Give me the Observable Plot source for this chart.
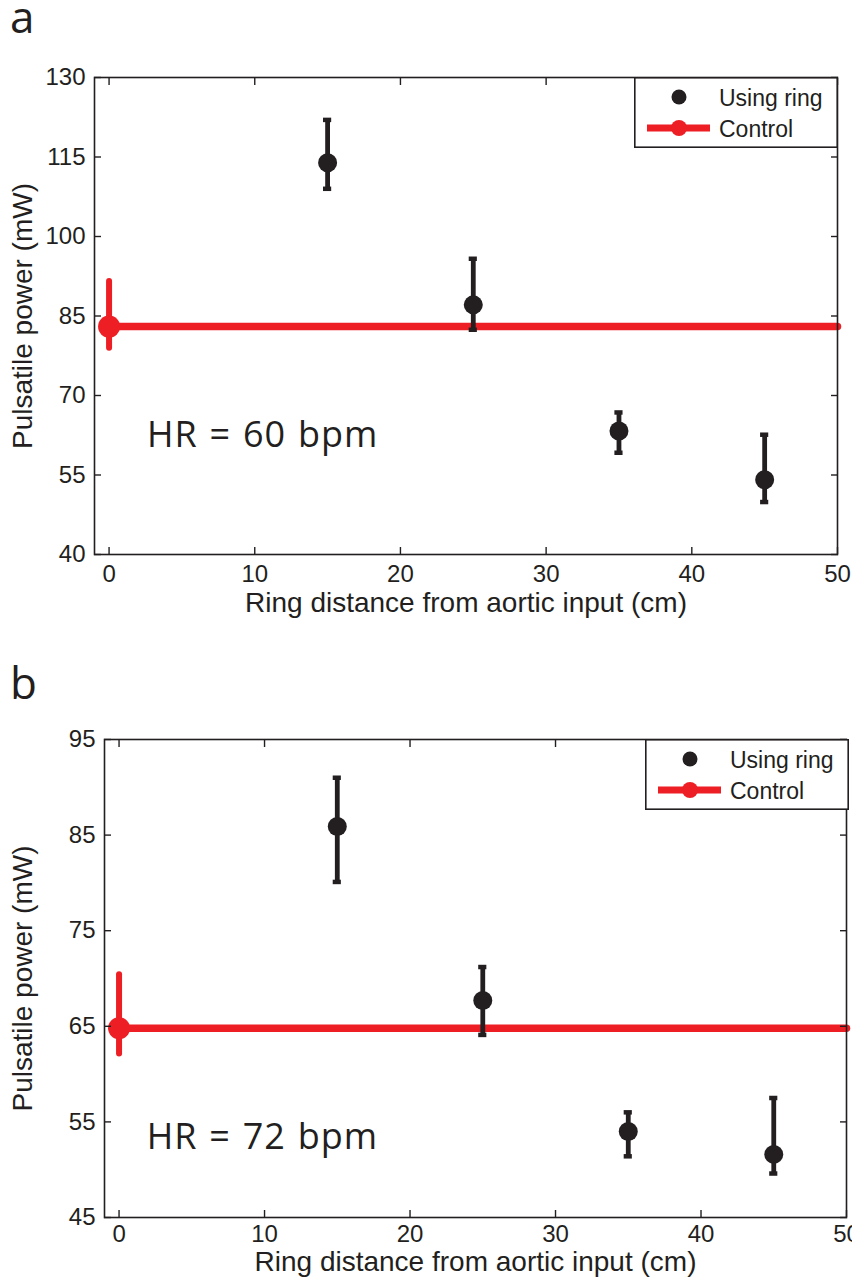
<!DOCTYPE html>
<html><head><meta charset="utf-8">
<script src="https://cdn.jsdelivr.net/npm/d3@7"></script>
<script src="https://cdn.jsdelivr.net/npm/@observablehq/plot@0.6"></script>
<style>
body{margin:0;background:#fff;}
#wrap{position:relative;width:852px;height:1284px;overflow:hidden;background:#fff;}
.panel{position:absolute;left:0;}
.legend,.plabel{position:absolute;overflow:visible;}
</style></head>
<body><div id="wrap"></div>
<script>
// ---- data ----
const distances = [15, 25, 35, 45];
const xTicks = [0, 10, 20, 30, 40, 50];
const xLabel = "Ring distance from aortic input (cm)";
const yLabel = "Pulsatile power (mW)";
const legendLabels = ["Using ring", "Control"];
const panelLetters = ["a", "b"];

// panel a (HR = 60 bpm)
const ringA   = [113.9, 87.1, 63.3, 54.1];
const ringALo = [109.0, 82.4, 59.2, 49.9];
const ringAHi = [122.0, 95.8, 66.8, 62.6];
const controlA = [83.0, 78.9, 91.5]; // mean, lower, upper at x = 0
const yTicksA = [40, 55, 70, 85, 100, 115, 130];
const hrA = "HR = 60 bpm";

// panel b (HR = 72 bpm)
const ringB   = [85.9, 67.7, 54.0, 51.6];
const ringBLo = [80.1, 64.1, 51.4, 49.6];
const ringBHi = [91.0, 71.2, 56.0, 57.5];
const controlB = [64.8, 62.1, 70.4];
const yTicksB = [45, 55, 65, 75, 85, 95];
const hrB = "HR = 72 bpm";

const controlX = [0, 50]; // control reference line extent

const BLACK = "#231f20", RED = "#ed1f24";

function panel(o) {
  const ring = distances.map((d, i) => ({x: d, y: o.ring[i], lo: o.lo[i], hi: o.hi[i]}));
  const ctrl = [{x: controlX[0], y: o.ctrl[0], lo: o.ctrl[1], hi: o.ctrl[2]}];
  const ctrlLine = controlX.map(x => ({x, y: o.ctrl[0]}));
  const svg = Plot.plot({
    width: 852, height: o.height,
    marginTop: o.mt, marginBottom: o.mb, marginLeft: o.ml, marginRight: o.mr,
    x: {domain: [-1, 50]},
    y: {domain: o.yDomain},
    style: {fontFamily: "'Liberation Sans', Arial, sans-serif", fontSize: "24px", color: BLACK, background: "transparent", overflow: "visible"},
    marks: [
      Plot.line(ctrlLine, {x: "x", y: "y", stroke: RED, strokeWidth: 7.5}),
      Plot.ruleX(ctrl, {x: "x", y1: "lo", y2: "hi", stroke: RED, strokeWidth: 6, strokeLinecap: "round"}),
      Plot.dot(ctrl, {x: "x", y: "y", r: 11, fill: RED}),
      Plot.ruleX(ring, {x: "x", y1: "lo", y2: "hi", stroke: BLACK, strokeWidth: 4.8}),
      Plot.ruleY(ring, {y: "hi", x1: d => d.x - 0.28, x2: d => d.x + 0.28, stroke: BLACK, strokeWidth: 4.5}),
      Plot.ruleY(ring, {y: "lo", x1: d => d.x - 0.28, x2: d => d.x + 0.28, stroke: BLACK, strokeWidth: 4.5}),
      Plot.dot(ring, {x: "x", y: "y", r: 9.5, fill: BLACK}),
      Plot.text([{t: o.hr, x: o.hrX, y: o.hrY}], {x: "x", y: "y", text: "t", textAnchor: "start", lineAnchor: "middle", fontFamily: "'Open Sans'", fontSize: 36, fill: BLACK}),
      Plot.frame({stroke: BLACK, strokeWidth: 1.6}),
      Plot.axisY(o.yTicks, {anchor: "left", tickSize: -7, tickPadding: 16, label: null, strokeWidth: 1.4}),
      Plot.axisY(o.yTicks, {anchor: "right", tickSize: -7, tickFormat: () => "", label: null, strokeWidth: 1.4}),
      Plot.axisX(xTicks, {anchor: "bottom", tickSize: -7, tickPadding: o.xtp, label: null, strokeWidth: 1.4}),
      Plot.axisX(xTicks, {anchor: "top", tickSize: -7, tickFormat: () => "", label: null, strokeWidth: 1.4}),
      Plot.text([yLabel], {frameAnchor: "left", dx: o.ylDx, rotate: -90, textAnchor: "middle", lineAnchor: "middle", fontSize: 28, fill: BLACK}),
      Plot.text([xLabel], {frameAnchor: "bottom", dy: o.xlDy, lineAnchor: "top", textAnchor: "middle", fontSize: 28, fill: BLACK})
    ]
  });
  d3.select(svg).selectAll("text").filter(function() { return this.textContent.startsWith("HR"); })
    .style("letter-spacing", "1px").style("word-spacing", "1.5px");
  return svg;
}

function legend(left, top) {
  const s = d3.create("svg").attr("class", "legend").attr("width", 204).attr("height", 71)
    .style("left", left + "px").style("top", top + "px");
  s.append("rect").attr("x", 0.8).attr("y", 0.8).attr("width", 202.4).attr("height", 69.4)
    .attr("fill", "#fff").attr("stroke", BLACK).attr("stroke-width", 1.6);
  s.append("circle").attr("cx", 45).attr("cy", 20).attr("r", 7.5).attr("fill", BLACK);
  s.append("line").attr("x1", 13).attr("x2", 76).attr("y1", 51).attr("y2", 51).attr("stroke", RED).attr("stroke-width", 7);
  s.append("circle").attr("cx", 45).attr("cy", 51).attr("r", 8).attr("fill", RED);
  s.selectAll("text").data(legendLabels).join("text")
    .attr("x", 85).attr("y", (d, i) => i ? 59.5 : 29)
    .attr("font-family", "'Liberation Sans', Arial, sans-serif").attr("font-size", 23).attr("fill", BLACK)
    .text(d => d);
  return s.node();
}

const wrap = document.getElementById("wrap");

const pa = panel({ring: ringA, lo: ringALo, hi: ringAHi, ctrl: controlA, yDomain: [40, 130], yTicks: yTicksA,
  hr: hrA, hrX: 2.6, hrY: 62.4, height: 640, mt: 77, mb: 86, ml: 94, mr: 15, ylDx: -71, xtp: 17, xlDy: 38});
pa.classList.add("panel"); pa.style.top = "0px";
wrap.appendChild(pa);

const pb = panel({ring: ringB, lo: ringBLo, hi: ringBHi, ctrl: controlB, yDomain: [45, 95], yTicks: yTicksB,
  hr: hrB, hrX: 1.9, hrY: 53.4, height: 644, mt: 99, mb: 67, ml: 104, mr: 6, ylDx: -81, xtp: 14, xlDy: 34});
pb.classList.add("panel"); pb.style.top = "640px";
wrap.appendChild(pb);

wrap.appendChild(legend(634, 76.5));
wrap.appendChild(legend(645, 739));

panelLetters.forEach((t, i) => {
  const s = d3.create("svg").attr("class", "plabel").attr("width", 60).attr("height", 80)
    .style("left", "0px").style("top", (i ? 640 : 0) + "px");
  s.append("text").attr("x", 10).attr("y", i ? 59 : 33).attr("font-family", "'Open Sans'").attr("font-size", 44)
    .attr("fill", BLACK).text(t);
  wrap.appendChild(s.node());
});
</script>
</body></html>
